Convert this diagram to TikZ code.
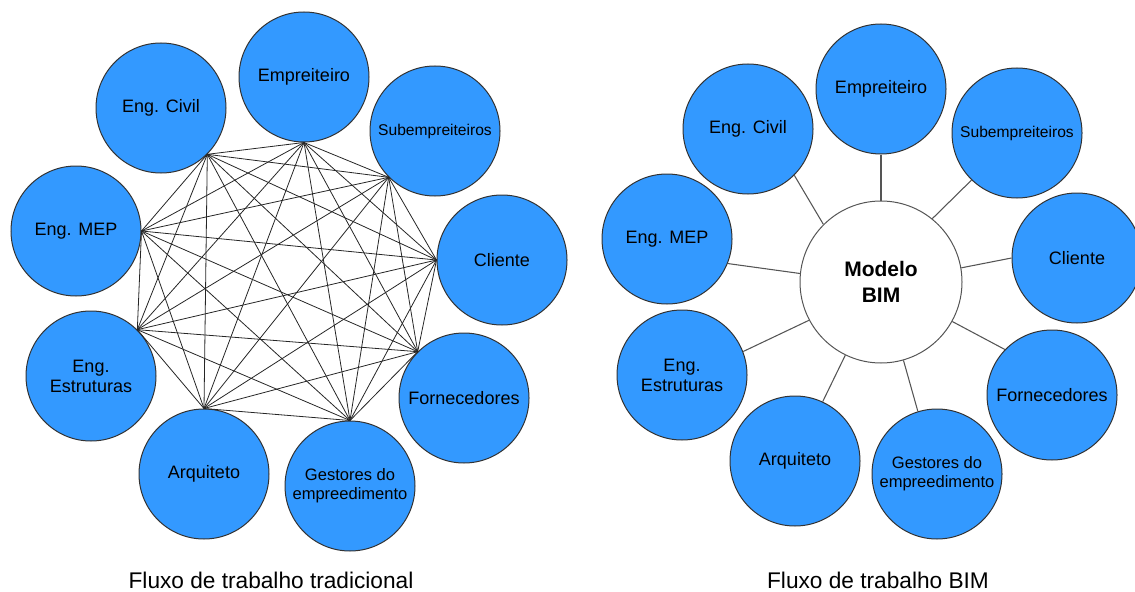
\documentclass[tikz,border=0pt]{standalone}
\usepackage{fontspec}
\setmainfont{Liberation Sans}
\definecolor{actorblue}{HTML}{3399FF}
\definecolor{linkgray}{HTML}{555555}

\begin{document}
\begin{tikzpicture}[x=0.75pt,y=-0.75pt,
    actor/.style={circle,draw=black!80,line width=0.75pt,fill=actorblue,minimum size=97.5pt,inner sep=0pt,align=center,font=\fontsize{13.5}{15}\selectfont},
    smalltext/.style={font=\fontsize{11.7}{14.25}\selectfont},
    midtext/.style={font=\fontsize{12.4}{14.25}\selectfont},
    model/.style={circle,draw=linkgray,line width=0.75pt,fill=white,minimum size=121.5pt,inner sep=0pt,align=center,font=\fontsize{15.75}{19.5}\selectfont\bfseries},
    mesh/.style={black!85,line width=0.6pt},
    spoke/.style={linkgray,line width=0.8pt},
    caption/.style={font=\fontsize{17}{20}\selectfont}]
    \useasboundingbox (0,0) rectangle (1135,592);
    % fluxo tradicional
    \node[actor] (lciv) at (161,108) {Eng. Civil};
    \node[actor] (lemp) at (304,77) {Empreiteiro};
    \node[actor,smalltext] (lsub) at (435,131) {Subempreiteiros};
    \node[actor] (lcli) at (502,260) {Cliente};
    \node[actor] (lfor) at (464,398) {Fornecedores};
    \node[actor,midtext] (lges) at (350,486) {Gestores do\\empreedimento};
    \node[actor] (larq) at (204,474) {Arquiteto};
    \node[actor] (lest) at (91,376) {Eng.\\Estruturas};
    \node[actor] (lmep) at (76,231) {Eng. MEP};
    \coordinate (p1) at (lciv.-45);
    \coordinate (p2) at (lemp.south);
    \coordinate (p3) at (lsub.-135);
    \coordinate (p4) at (lcli.west);
    \coordinate (p5) at (lfor.135);
    \coordinate (p6) at (lges.north);
    \coordinate (p7) at (larq.north);
    \coordinate (p8) at (lest.45);
    \coordinate (p9) at (lmep.east);
    \foreach \i in {1,...,8}{
        \pgfmathtruncatemacro\k{\i+1}
        \foreach \j in {\k,...,9}
            \draw[mesh] (p\i) -- (p\j);
    }
    \node[caption] (ltitle) at (271,580) {Fluxo de trabalho tradicional};
    % fluxo BIM
    \node[model] (bim) at (881,282) {Modelo\\BIM};
    \node[actor] (rciv) at (748,129) {Eng. Civil};
    \node[actor] (remp) at (881,89) {Empreiteiro};
    \node[actor,smalltext] (rsub) at (1017,133) {Subempreiteiros};
    \node[actor] (rcli) at (1077,258) {Cliente};
    \node[actor] (rfor) at (1052,395) {Fornecedores};
    \node[actor,midtext] (rges) at (937,474) {Gestores do\\empreedimento};
    \node[actor] (rarq) at (795,461) {Arquiteto};
    \node[actor] (rest) at (682,375) {Eng.\\Estruturas};
    \node[actor] (rmep) at (667,239) {Eng. MEP};
    \draw[spoke] (rciv.-45) -- (bim.135);
    \draw[spoke] (remp.south) -- (bim.north);
    \draw[spoke] (rsub.-134) -- (bim.51);
    \draw[spoke] (rcli.west) -- (bim.10);
    \draw[spoke] (rfor.136) -- (bim.-29);
    \draw[spoke] (rges.107) -- (bim.-74);
    \draw[spoke] (rarq.65) -- (bim.-116);
    \draw[spoke] (rest.21) -- (bim.-152);
    \draw[spoke] (rmep.-22) -- (bim.174);
    \node[caption] (rtitle) at (878,580) {Fluxo de trabalho BIM};
\end{tikzpicture}
\end{document}
